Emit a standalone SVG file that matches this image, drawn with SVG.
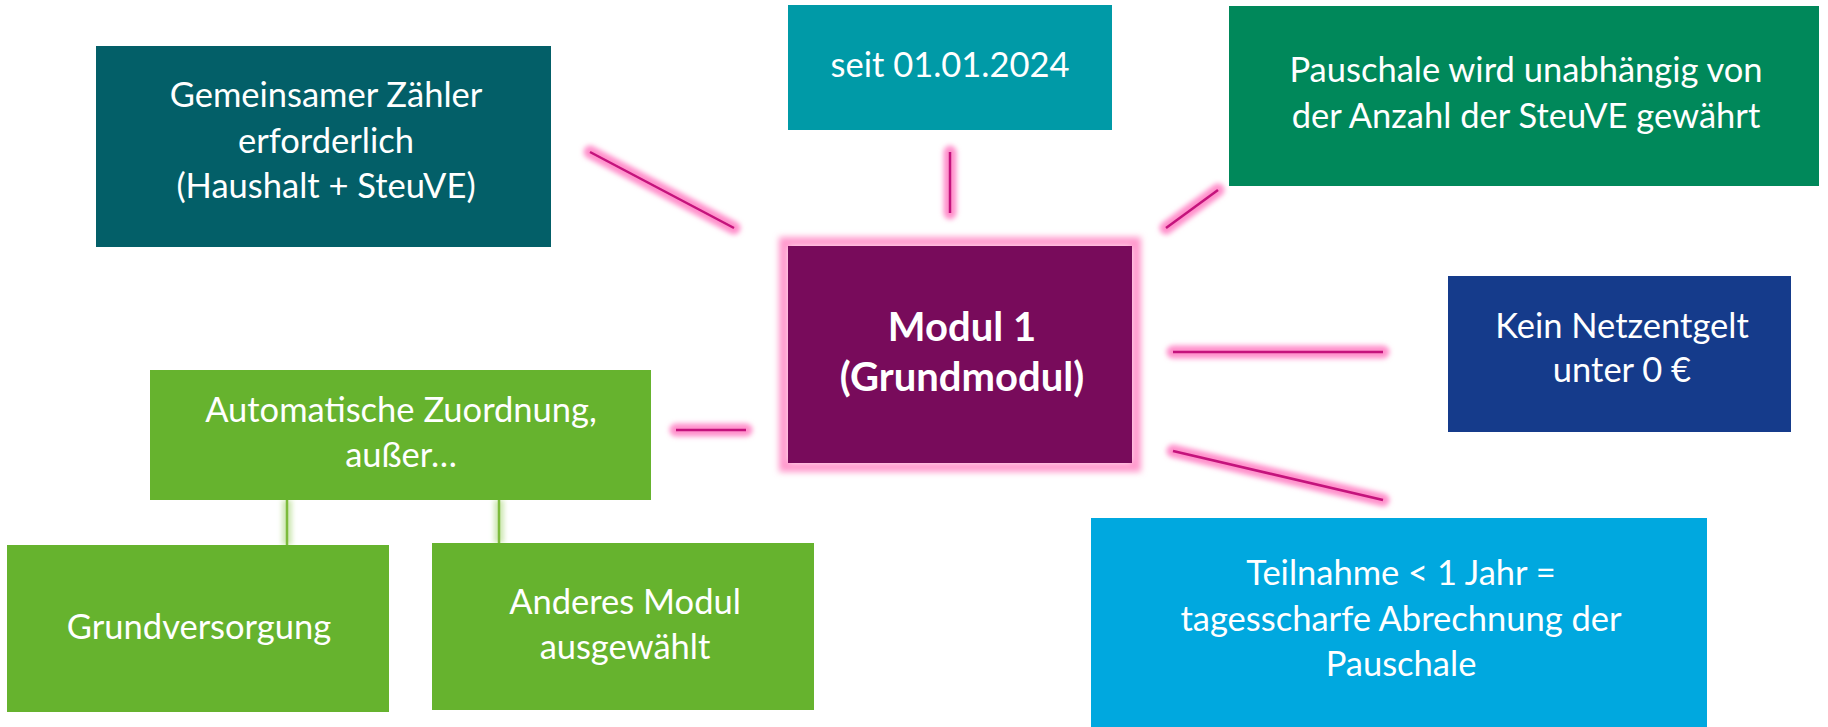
<svg xmlns="http://www.w3.org/2000/svg" width="1828" height="727" viewBox="0 0 1828 727">
<defs>
<filter id="glow" filterUnits="userSpaceOnUse" x="0" y="0" width="1828" height="727"><feGaussianBlur stdDeviation="2.5"/></filter>
<filter id="boxglow" filterUnits="userSpaceOnUse" x="0" y="0" width="1828" height="727"><feGaussianBlur stdDeviation="3"/></filter>
<style>
.t{font-family:Lato,"Liberation Sans",sans-serif;font-size:34.5px;fill:#fff;text-anchor:middle}
.b{font-weight:bold;font-size:40px}
.pg{stroke:#ff8fcb;stroke-width:13;stroke-linecap:round;fill:none;filter:url(#glow)}
.pl{stroke:#c4137c;stroke-width:2.5;fill:none}
.gg{stroke:#cfe8b4;stroke-width:10;fill:none;filter:url(#glow)}
.gl{stroke:#7dbb3c;stroke-width:2.5;fill:none}
</style>
</defs>
<rect width="1828" height="727" fill="#fff"/>
<g id="connectors">
<line class="pg" x1="590" y1="152" x2="734" y2="228"/>
<line class="pl" x1="590" y1="152" x2="734" y2="228"/>
<line class="pg" x1="950" y1="152" x2="950" y2="213"/>
<line class="pl" x1="950" y1="152" x2="950" y2="213"/>
<line class="pg" x1="1218" y1="190" x2="1166" y2="228"/>
<line class="pl" x1="1218" y1="190" x2="1166" y2="228"/>
<line class="pg" x1="1173" y1="352" x2="1383" y2="352"/>
<line class="pl" x1="1173" y1="352" x2="1383" y2="352"/>
<line class="pg" x1="1173" y1="451" x2="1383" y2="500"/>
<line class="pl" x1="1173" y1="451" x2="1383" y2="500"/>
<line class="pg" x1="676" y1="430" x2="746" y2="430"/>
<line class="pl" x1="676" y1="430" x2="746" y2="430"/>
<line class="gg" x1="287" y1="500" x2="287" y2="545"/>
<line class="gl" x1="287" y1="500" x2="287" y2="545"/>
<line class="gg" x1="499" y1="500" x2="499" y2="543"/>
<line class="gl" x1="499" y1="500" x2="499" y2="543"/>
</g>
<g id="zaehler">
<rect x="96" y="46" width="455" height="201" fill="#035f68"/>
<text class="t" x="326" y="107">Gemeinsamer Zähler</text>
<text class="t" x="326" y="153">erforderlich</text>
<text class="t" x="326" y="198">(Haushalt + SteuVE)</text>
</g>
<g id="seit">
<rect x="788" y="5" width="324" height="125" fill="#009aa7"/>
<text class="t" x="950" y="77">seit 01.01.2024</text>
</g>
<g id="pauschale">
<rect x="1229" y="6" width="590" height="180" fill="#00885a"/>
<text class="t" x="1526" y="82">Pauschale wird unabhängig von</text>
<text class="t" x="1526" y="128">der Anzahl der SteuVE gewährt</text>
</g>
<g id="netzentgelt">
<rect x="1448" y="276" width="343" height="156" fill="#153b8b"/>
<text class="t" x="1622" y="338">Kein Netzentgelt</text>
<text class="t" x="1622" y="382">unter 0 €</text>
</g>
<g id="teilnahme">
<rect x="1091" y="518" width="616" height="209" fill="#00a8df"/>
<text class="t" x="1401" y="585">Teilnahme &lt; 1 Jahr =</text>
<text class="t" x="1401" y="631">tagesscharfe Abrechnung der</text>
<text class="t" x="1401" y="676">Pauschale</text>
</g>
<g id="modul1">
<rect x="784" y="242" width="352" height="225" fill="none" stroke="#ff99cc" stroke-width="10" filter="url(#boxglow)"/>
<rect x="788" y="246" width="344" height="217" fill="#780b5b"/>
<text class="t b" x="962" y="341">Modul 1</text>
<text class="t b" x="962" y="391">(Grundmodul)</text>
</g>
<g id="automatisch">
<rect x="150" y="370" width="501" height="130" fill="#66b32e"/>
<text class="t" x="401" y="422">Automatische Zuordnung,</text>
<text class="t" x="401" y="467">außer…</text>
</g>
<g id="grundversorgung">
<rect x="7" y="545" width="382" height="167" fill="#66b32e"/>
<text class="t" x="199" y="639">Grundversorgung</text>
</g>
<g id="anderes">
<rect x="432" y="543" width="382" height="167" fill="#66b32e"/>
<text class="t" x="625" y="614">Anderes Modul</text>
<text class="t" x="625" y="659">ausgewählt</text>
</g>
</svg>
